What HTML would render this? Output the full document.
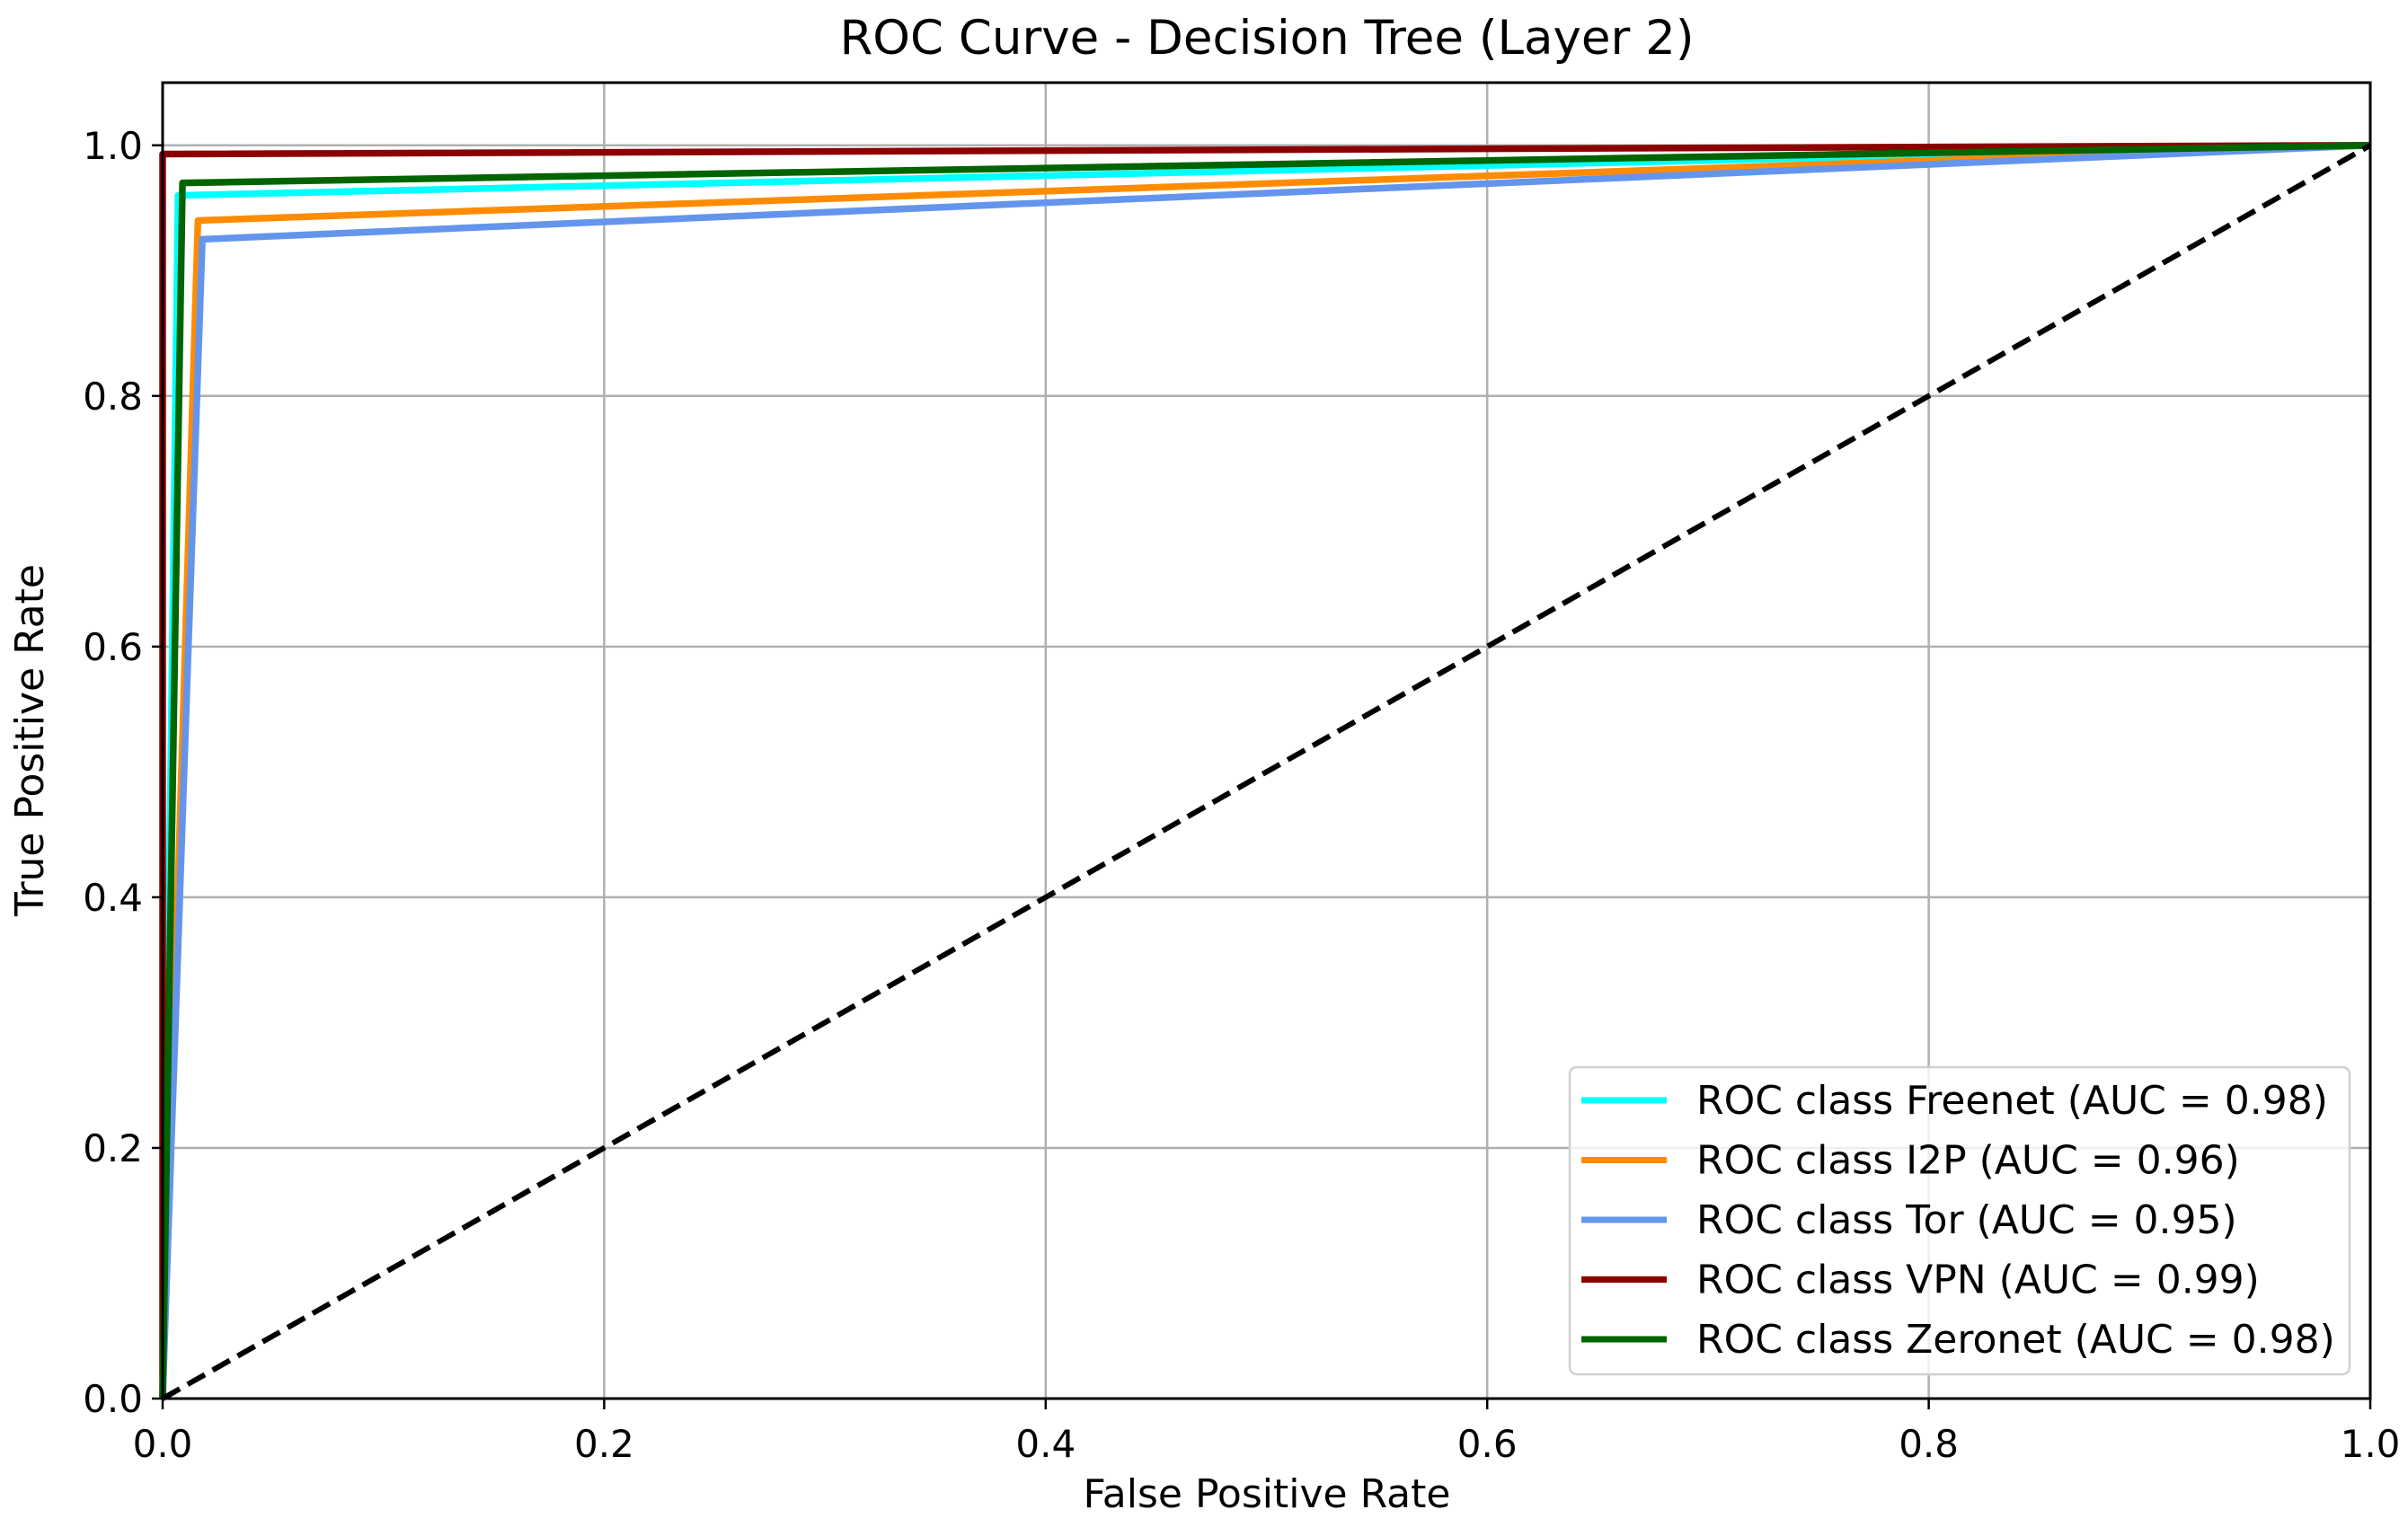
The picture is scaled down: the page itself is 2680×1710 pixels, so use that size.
<!DOCTYPE html>
<html><head><meta charset="utf-8"><style>
html,body{margin:0;padding:0;background:#fff;}
svg{display:block;font-family:"DejaVu Sans","Liberation Sans",sans-serif;}
</style></head><body>
<svg id="chart" width="2680" height="1710" viewBox="0 0 2680 1710">
<rect width="2680" height="1710" fill="#fff"/>
<text x="1410" y="60" text-anchor="middle" font-size="53" fill="#000">ROC Curve - Decision Tree (Layer 2)</text>
<g id="grid"></g>
<g id="series"></g>
<rect x="181" y="92" width="2457" height="1465" fill="none" stroke="#000" stroke-width="3"/>
<g id="ticks"></g>
<text x="1410" y="1678" text-anchor="middle" font-size="44">False Positive Rate</text>
<text x="0" y="0" transform="translate(48,824) rotate(-90)" text-anchor="middle" font-size="44">True Positive Rate</text>
<g id="legend"></g>
</svg>
<script>
const classNames = ["Freenet","I2P","Tor","VPN","Zeronet"];
const aucValues = ["0.98","0.96","0.95","0.99","0.98"];
const colors = ["#00ffff","#ff8c00","#6495ed","#8b0000","#006400"];
const fprFreenet = [0, 0.007, 1];
const tprFreenet = [0, 0.960, 1];
const fprI2P = [0, 0.016, 1];
const tprI2P = [0, 0.940, 1];
const fprTor = [0, 0.018, 1];
const tprTor = [0, 0.925, 1];
const fprVPN = [0, 0.0, 1];
const tprVPN = [0, 0.993, 1];
const fprZeronet = [0, 0.009, 1];
const tprZeronet = [0, 0.970, 1];
const xTicks = ["0.0","0.2","0.4","0.6","0.8","1.0"];
const yTicks = ["0.0","0.2","0.4","0.6","0.8","1.0"];

const NS="http://www.w3.org/2000/svg";
const X0=181,X1=2638,Y0=1557,YMAX=1.05,PH=1465;
const sx=v=>X0+v*(X1-X0);
const sy=v=>Y0-v/YMAX*PH;
function mk(tag,attrs,parent){const e=document.createElementNS(NS,tag);for(const k in attrs)e.setAttribute(k,attrs[k]);parent.appendChild(e);return e;}
const grid=document.getElementById('grid'),ticks=document.getElementById('ticks'),series=document.getElementById('series'),legend=document.getElementById('legend');

xTicks.forEach(t=>{const v=parseFloat(t),x=sx(v);
 const g=mk('line',{x1:x,x2:x,y1:92,y2:Y0,stroke:'#b0b0b0','stroke-width':2.5},grid);
 
 
 const tk=mk('line',{x1:x,x2:x,y1:Y0,y2:Y0+12,stroke:'#000','stroke-width':2.5},ticks);
 
 
 const tx=mk('text',{x:x,y:1622,'text-anchor':'middle','font-size':42},ticks);tx.textContent=t;
 
 
});
yTicks.forEach(t=>{const v=parseFloat(t),y=sy(v);
 const g=mk('line',{x1:X0,x2:X1,y1:y,y2:y,stroke:'#b0b0b0','stroke-width':2.5},grid);
 
 
 const tk=mk('line',{x1:X0-12,x2:X0,y1:y,y2:y,stroke:'#000','stroke-width':2.5},ticks);
 
 
 const tx=mk('text',{x:X0-22,y:y+15,'text-anchor':'end','font-size':42},ticks);tx.textContent=t;
 
 
});

const fprs=[fprFreenet,fprI2P,fprTor,fprVPN,fprZeronet];
const tprs=[tprFreenet,tprI2P,tprTor,tprVPN,tprZeronet];
classNames.forEach((n,i)=>{
 const pts=fprs[i].map((f,j)=>sx(f)+','+sy(tprs[i][j])).join(' ');
 const p=mk('polyline',{points:pts,fill:'none',stroke:colors[i],'stroke-width':7.5,'stroke-linejoin':'round'},series);
 
 
});
const diag=mk('line',{x1:sx(0),y1:sy(0),x2:sx(1),y2:sy(1),stroke:'#000','stroke-width':6,'stroke-dasharray':'22,10'},series);



const box=mk('rect',{x:1747,y:1188,width:868,height:342,rx:8,fill:'#fff','fill-opacity':0.8,stroke:'#d0d0d0','stroke-width':2.5},legend);


classNames.forEach((n,i)=>{const y=1225+i*66.5;
 const l=mk('line',{x1:1760,x2:1855,y1:y,y2:y,stroke:colors[i],'stroke-width':7},legend);
 
 
 const t=mk('text',{x:1888,y:y+15,'font-size':44},legend);
 t.textContent='ROC class '+n+' (AUC = '+aucValues[i]+')';
 
 
});
</script>
</body></html>
